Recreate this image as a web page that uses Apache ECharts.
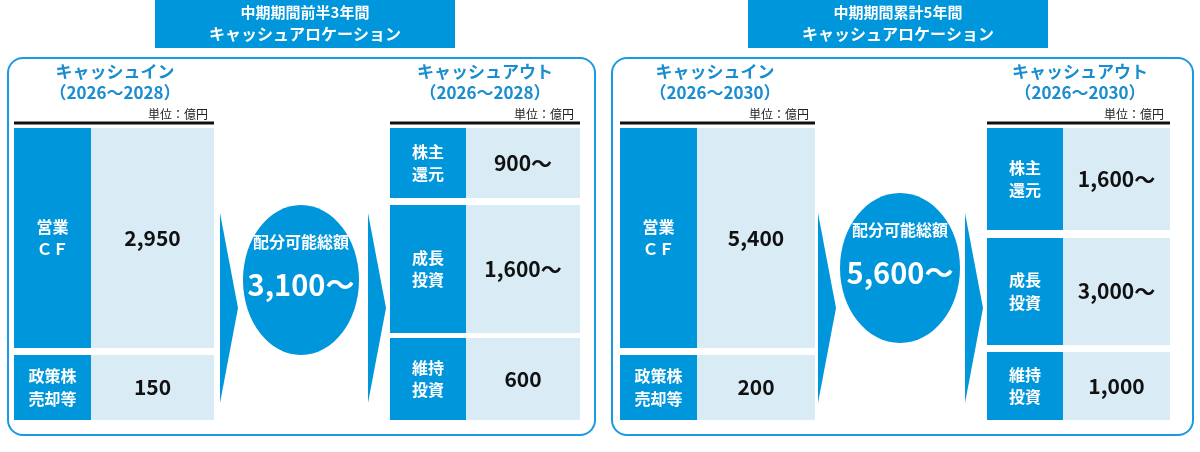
<!DOCTYPE html>
<html><head><meta charset="utf-8">
<script src="https://cdn.jsdelivr.net/npm/echarts@6/dist/echarts.min.js"></script>
<style>html,body{margin:0;background:#fff}#c{width:1200px;height:452px}</style>
</head><body><div id="c"></div>
<script>
const panelTitles = [["中期期間前半3年間","キャッシュアロケーション"],["中期期間累計5年間","キャッシュアロケーション"]];
const periods = ["（2026～2028）","（2026～2030）"];
const inLabels = [["営業\nＣＦ","政策株\n売却等"],["営業\nＣＦ","政策株\n売却等"]];
const inValues = [["2,950","150"],["5,400","200"]];
const totalValues = ["3,100～","5,600～"];
const outLabels = [["株主\n還元","成長\n投資","維持\n投資"],["株主\n還元","成長\n投資","維持\n投資"]];
const outValues = [["900～","1,600～","600"],["1,600～","3,000～","1,000"]];

const DARK='#0096dc', LIGHT='#d9ecf6', BLUE='#1a8dd0', F='"Noto Sans CJK JP","Noto Sans",sans-serif';
const layouts=[
 {ox:8,w:587,tb:[155,300],inX:[14,91,214],inRows:[[128,348],[355,420]],a1:220,el:[301,280,58,75],a2:368,outX:[390,466,580],outRows:[[128,198],[205,333],[338,420]],inC:115,outC:485},
 {ox:612,w:581,tb:[748,300],inX:[620,697,815],inRows:[[128,348],[355,420]],a1:818,el:[900,268,60,75],a2:965,outX:[987,1063,1170],outRows:[[128,230],[238,345],[352,420]],inC:715,outC:1080}
];
const g=[];
function txt(x,y,t,size,color,weight,align){g.push({type:'text',x,y,style:{text:t,fill:color,font:`${weight||'bold'} ${size}px ${F}`,align:align||'center',verticalAlign:'middle',lineHeight:size*1.4}});}
function rect(x,y,w,h,fill){g.push({type:'rect',shape:{x,y,width:w,height:h},style:{fill}});}
layouts.forEach((L,i)=>{
 g.push({type:'rect',shape:{x:L.ox,y:58,width:L.w,height:377,r:15},style:{fill:'none',stroke:'#1a9ae0',lineWidth:2}});
 rect(L.tb[0],0,L.tb[1],48,DARK);
 txt(L.tb[0]+L.tb[1]/2,12,panelTitles[i][0],15,'#fff');
 txt(L.tb[0]+L.tb[1]/2,34,panelTitles[i][1],16,'#fff');
 [[L.inC,'キャッシュイン',L.inX],[L.outC,'キャッシュアウト',L.outX]].forEach(([c,t,X])=>{
  txt(c,72,t,17,BLUE); txt(c,93,periods[i],17,BLUE);
  txt(X[2]-6,114,'単位：億円',12,'#222','normal','right');
  g.push({type:'line',shape:{x1:X[0],y1:123,x2:X[2],y2:123},style:{stroke:'#111',lineWidth:3}});
 });
 L.inRows.forEach((r,k)=>{rect(L.inX[0],r[0],L.inX[1]-L.inX[0],r[1]-r[0],DARK);rect(L.inX[1],r[0],L.inX[2]-L.inX[1],r[1]-r[0],LIGHT);
  const cy=(r[0]+r[1])/2;
  txt((L.inX[0]+L.inX[1])/2,cy,inLabels[i][k],16,'#fff');txt((L.inX[1]+L.inX[2])/2,cy,inValues[i][k],21,'#111');});
 L.outRows.forEach((r,k)=>{rect(L.outX[0],r[0],L.outX[1]-L.outX[0],r[1]-r[0],DARK);rect(L.outX[1],r[0],L.outX[2]-L.outX[1],r[1]-r[0],LIGHT);
  const cy=(r[0]+r[1])/2;
  txt((L.outX[0]+L.outX[1])/2,cy,outLabels[i][k],16,'#fff');txt((L.outX[1]+L.outX[2])/2,cy,outValues[i][k],21,'#111');});
 [L.a1,L.a2].forEach(a=>g.push({type:'polygon',shape:{points:[[a,213],[a+18,308],[a,403]]},style:{fill:DARK}}));
 const [ex,ey,rx,ry]=L.el;
 g.push({type:'ellipse',shape:{cx:ex,cy:ey,rx,ry},style:{fill:DARK}});
 txt(ex,ey-38,'配分可能総額',16,'#fff');
 txt(ex,ey+5,totalValues[i],29,'#fff');
});
const ch=echarts.init(document.getElementById('c'));
ch.setOption({animation:false,graphic:g});
</script></body></html>
